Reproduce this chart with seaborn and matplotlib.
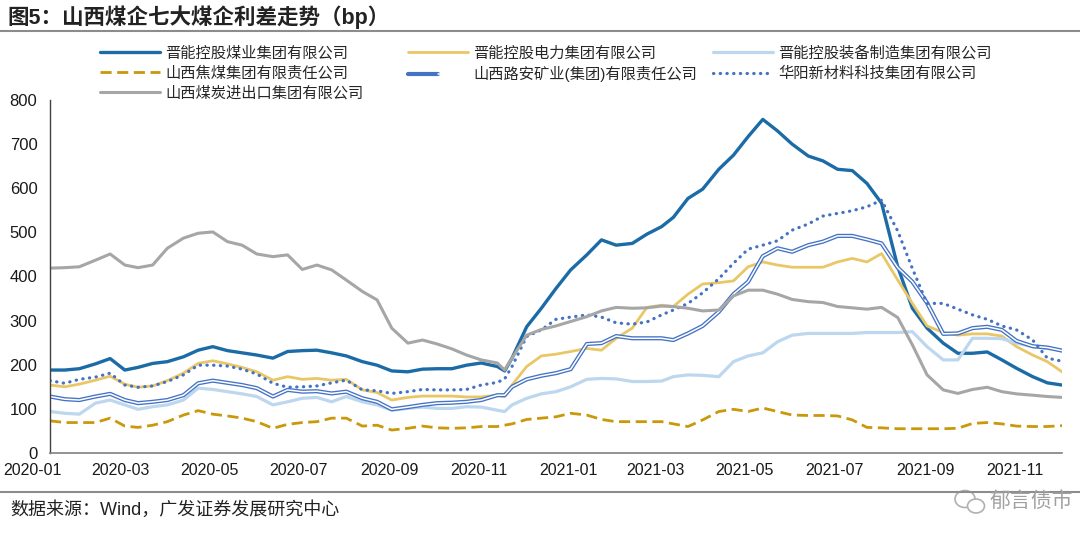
import pandas as pd
import matplotlib.pyplot as plt
import matplotlib.dates as mdates
import seaborn as sns
from matplotlib.lines import Line2D
from matplotlib.patches import Ellipse
from matplotlib.legend_handler import HandlerTuple
from matplotlib.transforms import ScaledTranslation

sns.set_style("white")
plt.rcParams['font.family'] = ['Liberation Sans', 'Noto Sans CJK SC']

# dates: 1st / 11th / 21st of each month, plus the Yongmei default week
months = pd.period_range("2020-01", "2021-11", freq="M")
dates = sorted([pd.Timestamp(f"{m}-{d:02d}") for m in months for d in (1, 11, 21)]
               + [pd.Timestamp("2020-11-06")])

# spreads (bp)
meiye = [188, 188, 191, 202, 214, 188, 194, 203, 207, 218, 233, 241,
         232, 227, 222, 215, 230, 232, 233, 227, 220, 207, 199, 186,
         184, 190, 191, 191, 199, 204, 196, 186, 215, 286, 328, 373, 415,
         449, 483, 471, 475, 496, 513, 534, 577, 598, 643, 675, 717,
         756, 730, 700, 673, 662, 643, 640, 611, 566, 422, 328, 283,
         249, 226, 226, 229, 211, 192, 173, 159, 154]
dianli = [154, 150, 156, 165, 174, 156, 149, 152, 164, 181, 203, 209,
          202, 194, 184, 165, 173, 167, 169, 165, 167, 143, 137, 120,
          126, 129, 129, 129, 127, 127, 131, 128, 154, 196, 220, 224, 230,
          237, 233, 260, 283, 330, 335, 332, 360, 383, 386, 390, 422,
          433, 426, 421, 421, 421, 433, 441, 433, 452, 392, 339, 288,
          273, 267, 270, 270, 265, 241, 222, 207, 184]
zhuangbei = [94, 90, 88, 113, 120, 109, 99, 105, 109, 120, 147, 144,
             139, 134, 128, 109, 116, 124, 126, 116, 128, 116, 109, 97,
             101, 104, 101, 101, 105, 104, 97, 94, 109, 124, 134, 139, 150,
             167, 169, 168, 162, 162, 163, 173, 177, 176, 173, 207, 220,
             227, 252, 267, 271, 271, 271, 271, 273, 273, 273, 275, 241,
             211, 211, 260, 260, 259, 249, 241, 237, 233]
jiaomei = [73, 69, 69, 69, 79, 61, 58, 63, 71, 86, 96, 88,
           84, 79, 71, 56, 65, 69, 71, 79, 79, 61, 63, 52,
           56, 61, 57, 56, 57, 60, 60, 63, 66, 76, 79, 82, 90,
           86, 76, 71, 71, 71, 71, 66, 60, 75, 94, 99, 94,
           102, 94, 86, 85, 85, 84, 75, 58, 57, 55, 55, 55,
           55, 56, 67, 69, 66, 61, 60, 60, 62]
luan = [128, 122, 120, 128, 134, 120, 113, 116, 120, 131, 158, 164,
        159, 154, 147, 128, 143, 139, 140, 135, 139, 124, 116, 99,
        104, 109, 113, 114, 116, 120, 131, 131, 150, 167, 175, 181, 190,
        247, 249, 265, 260, 260, 260, 256, 271, 288, 320, 360, 388,
        446, 464, 456, 471, 479, 492, 492, 484, 475, 420, 388, 340,
        270, 271, 283, 286, 279, 254, 242, 239, 232]
huayang = [164, 158, 167, 172, 181, 154, 149, 152, 162, 177, 199, 199,
           197, 190, 179, 158, 149, 150, 152, 159, 165, 143, 141, 135,
           139, 144, 143, 143, 144, 154, 160, 168, 196, 264, 279, 303, 308,
           313, 308, 295, 292, 297, 313, 324, 339, 363, 395, 430, 462,
           471, 481, 505, 519, 537, 543, 549, 558, 573, 503, 418, 339,
           339, 326, 313, 303, 288, 279, 256, 215, 208]
jinchukou = [419, 420, 422, 437, 451, 426, 420, 426, 464, 487, 498, 501,
             479, 471, 451, 445, 449, 416, 426, 415, 392, 366, 347, 283,
             249, 256, 247, 236, 222, 211, 204, 188, 215, 267, 280, 288, 298,
             309, 322, 330, 328, 329, 333, 332, 328, 322, 324, 356, 369,
             369, 360, 348, 343, 341, 332, 329, 326, 330, 307, 245, 177,
             143, 135, 144, 149, 139, 134, 131, 128, 126]

names = ["晋能控股煤业集团有限公司", "晋能控股电力集团有限公司", "晋能控股装备制造集团有限公司",
         "山西焦煤集团有限责任公司", "山西路安矿业(集团)有限责任公司", "华阳新材料科技集团有限公司",
         "山西煤炭进出口集团有限公司"]

fig = plt.figure(figsize=(10.8, 5.49), dpi=100)
ax = fig.add_axes([50 / 1080, 96 / 549, (1062 - 50) / 1080, 353 / 549])

handles = []
sns.lineplot(x=dates, y=meiye, ax=ax, color="#1B6BA6", lw=2.4)
handles.append(ax.lines[-1])
sns.lineplot(x=dates, y=dianli, ax=ax, color="#E9C767", lw=2.0)
handles.append(ax.lines[-1])
sns.lineplot(x=dates, y=zhuangbei, ax=ax, color="#BDD7EE", lw=2.3)
handles.append(ax.lines[-1])
sns.lineplot(x=dates, y=jiaomei, ax=ax, color="#C9980B", lw=2.0, linestyle=(0, (4, 2)))
handles.append(ax.lines[-1])
# double line: blue outline with white core
sns.lineplot(x=dates, y=luan, ax=ax, color="#4472C4", lw=3.0)
outer = ax.lines[-1]
sns.lineplot(x=dates, y=luan, ax=ax, color="white", lw=1.1)
handles.append((outer, ax.lines[-1]))
sns.lineplot(x=dates, y=huayang, ax=ax, color="#4472C4", lw=2.3,
             linestyle=(0, (0.1, 2.0)), dash_capstyle="round")
handles.append(ax.lines[-1])
sns.lineplot(x=dates, y=jinchukou, ax=ax, color="#A6A6A6", lw=2.2)
handles.append(ax.lines[-1])

ax.set_ylim(0, 800)
ax.set_yticks(range(0, 801, 100))
ax.set_xlim(pd.Timestamp("2020-01-01"), pd.Timestamp("2021-11-21"))
ax.xaxis.set_major_locator(mdates.MonthLocator(bymonth=[1, 3, 5, 7, 9, 11]))
ax.xaxis.set_major_formatter(mdates.DateFormatter("%Y-%m"))
ax.set_xlabel("")
ax.set_ylabel("")

for s in ["top", "right"]:
    ax.spines[s].set_visible(False)
ax.spines["left"].set_color("#404040")
ax.spines["bottom"].set_color("#808080")
ax.spines["left"].set_linewidth(1)
ax.spines["bottom"].set_linewidth(1.2)
ax.tick_params(axis="y", direction="in", length=3, width=1, color="#404040",
               labelsize=12, pad=9, labelcolor="#1a1a1a")
ax.tick_params(axis="x", length=0, labelsize=11.5, pad=7, labelcolor="#1a1a1a")

# labels sit a bit left of their month
shift = ScaledTranslation(-18 / 100, 0, fig.dpi_scale_trans)
for lab in ax.get_xticklabels():
    lab.set_transform(lab.get_transform() + shift)

# legend: three equal-width columns, filled row by row
columns = [([0, 3, 6], 100), ([1, 4], 408), ([2, 5], 713)]
for idx, xpx in columns:
    fig.legend([handles[i] for i in idx], [names[i] for i in idx],
               loc="upper left", bbox_to_anchor=(xpx / 1080, 1 - 46 / 549),
               ncol=1, frameon=False, fontsize=11, handlelength=3.9,
               handletextpad=0.35, labelspacing=0.36,
               borderpad=0, borderaxespad=0,
               handler_map={tuple: HandlerTuple(ndivide=None)})

# title, rules, source, watermark
fig.text(7 / 1080, 1 - 17 / 549, "图5：山西煤企七大煤企利差走势（bp）", fontsize=15.5,
         fontweight="bold", color="#222222", va="center", ha="left")
fig.add_artist(Line2D([0, 1], [1 - 31 / 549] * 2, color="#8c8c8c", lw=1.5))
fig.add_artist(Line2D([0, 1], [1 - 492 / 549] * 2, color="#8c8c8c", lw=1.5))
fig.text(10 / 1080, 1 - 510 / 549, "数据来源：Wind，广发证券发展研究中心", fontsize=13,
         color="#222222", va="center", ha="left")
fig.add_artist(Ellipse((965 / 1080, 1 - 499 / 549), 20 / 1080, 17 / 549,
                       fill=False, ec="#b0b0b0", lw=1.2, transform=fig.transFigure))
fig.add_artist(Ellipse((976 / 1080, 1 - 506 / 549), 17 / 1080, 14 / 549,
                       fc="white", ec="#b0b0b0", lw=1.2, transform=fig.transFigure))
fig.text(990 / 1080, 1 - 501 / 549, "郁言债市", fontsize=15, color="#a0a0a0",
         va="center", ha="left")

fig.savefig("out.png", dpi=100)
